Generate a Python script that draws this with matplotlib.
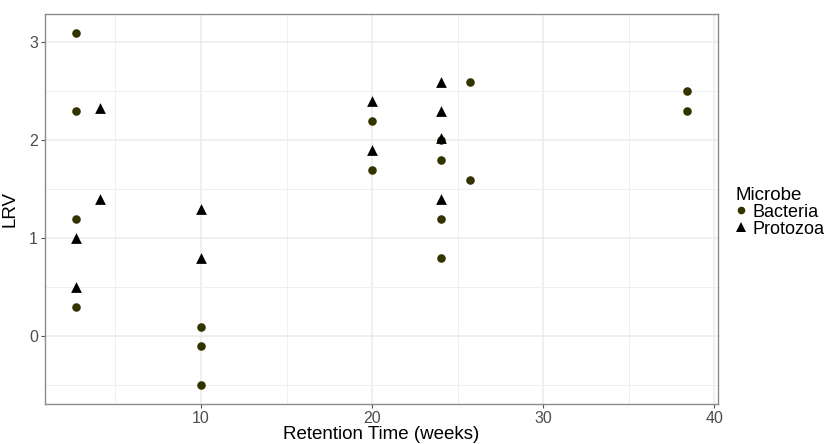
import matplotlib
matplotlib.use("Agg")
import matplotlib.pyplot as plt
from matplotlib.ticker import MultipleLocator
from matplotlib.lines import Line2D

plt.rcParams['font.family'] = ['Liberation Sans', 'DejaVu Sans']

# Bacteria points (retention time in weeks, LRV)
bact_x = [2.7, 2.7, 2.7, 2.7, 10, 10, 10, 20, 20, 24, 24, 24, 24, 25.7, 25.7, 38.4, 38.4]
bact_y = [3.1, 2.3, 1.2, 0.3, 0.1, -0.1, -0.5, 2.2, 1.7, 2.0, 1.8, 1.2, 0.8, 2.6, 1.6, 2.5, 2.3]

# Protozoa points
prot_x = [2.7, 2.7, 4.1, 4.1, 10, 10, 20, 20, 24, 24, 24, 24]
prot_y = [1.0, 0.5, 2.33, 1.4, 1.3, 0.8, 2.4, 1.9, 2.6, 2.3, 2.02, 1.4]

bact_col = '#333300'
prot_col = '#000000'

fig = plt.figure(figsize=(8.28, 4.44), dpi=100)
ax = fig.add_axes([0.0543, 0.0901, 0.8127, 0.8784])

ax.scatter(bact_x, bact_y, marker='o', s=38, color=bact_col, linewidths=0, zorder=3)
ax.scatter(prot_x, prot_y, marker='^', s=60, color=prot_col, linewidths=0, zorder=4)

ax.set_xlim(0.88, 40.2)
ax.set_ylim(-0.69, 3.29)
ax.xaxis.set_major_locator(MultipleLocator(10))
ax.xaxis.set_minor_locator(MultipleLocator(5))
ax.yaxis.set_major_locator(MultipleLocator(1))
ax.yaxis.set_minor_locator(MultipleLocator(0.5))
ax.set_xticks([10, 20, 30, 40])

ax.grid(which='major', color='#ebebeb', linewidth=1.1, zorder=0)
ax.grid(which='minor', color='#efefef', linewidth=0.7, zorder=0)
ax.set_axisbelow(True)

for sp in ax.spines.values():
    sp.set_color('#8c8c8c')
    sp.set_linewidth(1.0)

ax.tick_params(which='major', length=3, color='#555555', labelsize=11.5, labelcolor='#4d4d4d', pad=2)
ax.tick_params(which='minor', length=0)

ax.set_xlabel('Retention Time (weeks)', fontsize=13.5, labelpad=0)
ax.set_ylabel('LRV', fontsize=13.5, labelpad=8)

handles = [
    Line2D([], [], marker='o', linestyle='none', color=bact_col, markersize=5.5, markeredgewidth=0),
    Line2D([], [], marker='^', linestyle='none', color=prot_col, markersize=7, markeredgewidth=0),
]
fig.legend(handles, ['Bacteria', 'Protozoa'], title='Microbe', loc='upper left',
           bbox_to_anchor=(0.877, 0.60), frameon=False, fontsize=13, title_fontsize=13.5,
           handlelength=0.6, handletextpad=0.35, labelspacing=0.0, borderpad=0,
           alignment='left')

fig.savefig('out.png', dpi=100)
